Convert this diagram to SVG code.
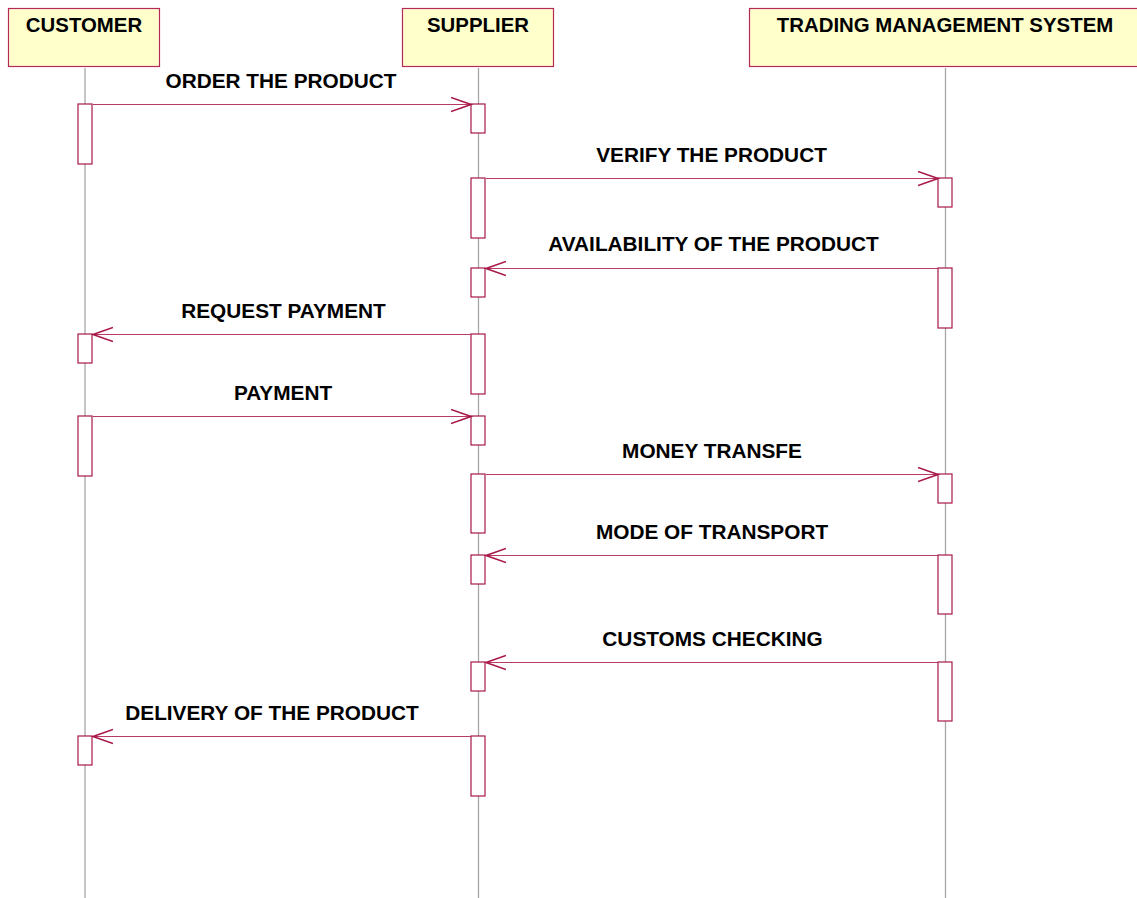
<svg xmlns="http://www.w3.org/2000/svg" width="1137" height="898" viewBox="0 0 1137 898">
<style>
.hdr{fill:#FFFFCC;stroke:#B4285A;stroke-width:1.2}
.life{stroke:#A6A6A6;stroke-width:1.3;fill:none}
.act{fill:#FFFFFF;stroke:#A8174A;stroke-width:1.2}
.msg{stroke:#B83A66;stroke-width:1.2;fill:none}
text{font-family:"Liberation Sans",Arial,sans-serif;font-weight:bold;font-size:20.8px;fill:#000;text-anchor:middle}
.ht{font-size:20.4px}
</style>
<defs>
<marker id="open" markerUnits="userSpaceOnUse" markerWidth="24" markerHeight="18" refX="20" refY="8" orient="auto">
<polyline points="0,1 20,8 0,15" fill="none" stroke="#A8174A" stroke-width="1.6"/>
</marker>
</defs>
<g id="customer">
<line class="life" x1="85" y1="68" x2="85" y2="898"/>
<rect class="hdr" x="8.5" y="8.5" width="151" height="58"/>
<text class="ht" x="84" y="32">CUSTOMER</text>
</g>
<g id="supplier">
<line class="life" x1="478.5" y1="68" x2="478.5" y2="898"/>
<rect class="hdr" x="402.5" y="8.5" width="151" height="58"/>
<text class="ht" x="478" y="32">SUPPLIER</text>
</g>
<g id="tms">
<line class="life" x1="945.5" y1="68" x2="945.5" y2="898"/>
<rect class="hdr" x="749.5" y="8.5" width="400" height="58"/>
<text class="ht" x="945" y="32">TRADING MANAGEMENT SYSTEM</text>
</g>
<g id="activations">
<rect class="act" x="78" y="104" width="14" height="60"/>
<rect class="act" x="471" y="104" width="14" height="29"/>
<rect class="act" x="471" y="178" width="14" height="60"/>
<rect class="act" x="938" y="178" width="14" height="29"/>
<rect class="act" x="938" y="268" width="14" height="60"/>
<rect class="act" x="471" y="268" width="14" height="29"/>
<rect class="act" x="471" y="334" width="14" height="60"/>
<rect class="act" x="78" y="334" width="14" height="29"/>
<rect class="act" x="78" y="416" width="14" height="60"/>
<rect class="act" x="471" y="416" width="14" height="29"/>
<rect class="act" x="471" y="474" width="14" height="59"/>
<rect class="act" x="938" y="474" width="14" height="29"/>
<rect class="act" x="938" y="555" width="14" height="59"/>
<rect class="act" x="471" y="555" width="14" height="29"/>
<rect class="act" x="938" y="662" width="14" height="59"/>
<rect class="act" x="471" y="662" width="14" height="29"/>
<rect class="act" x="471" y="736" width="14" height="60"/>
<rect class="act" x="78" y="736" width="14" height="29"/>
</g>
<g id="connectors">
<line class="msg" x1="93" y1="104.5" x2="471" y2="104.5" marker-end="url(#open)"/>
<line class="msg" x1="486" y1="178.5" x2="938" y2="178.5" marker-end="url(#open)"/>
<line class="msg" x1="938" y1="268.5" x2="486" y2="268.5" marker-end="url(#open)"/>
<line class="msg" x1="471" y1="334.5" x2="93" y2="334.5" marker-end="url(#open)"/>
<line class="msg" x1="93" y1="416.5" x2="471" y2="416.5" marker-end="url(#open)"/>
<line class="msg" x1="486" y1="474.5" x2="938" y2="474.5" marker-end="url(#open)"/>
<line class="msg" x1="938" y1="555.5" x2="486" y2="555.5" marker-end="url(#open)"/>
<line class="msg" x1="938" y1="662.5" x2="486" y2="662.5" marker-end="url(#open)"/>
<line class="msg" x1="471" y1="736.5" x2="93" y2="736.5" marker-end="url(#open)"/>
</g>
<g id="labels">
<text x="281" y="88">ORDER THE PRODUCT</text>
<text x="711.5" y="162">VERIFY THE PRODUCT</text>
<text x="713.5" y="251">AVAILABILITY OF THE PRODUCT</text>
<text x="283.5" y="318">REQUEST PAYMENT</text>
<text x="283" y="400">PAYMENT</text>
<text x="712" y="458">MONEY TRANSFE</text>
<text x="712" y="539">MODE OF TRANSPORT</text>
<text x="712.5" y="646">CUSTOMS CHECKING</text>
<text x="272" y="720">DELIVERY OF THE PRODUCT</text>
</g>
</svg>
